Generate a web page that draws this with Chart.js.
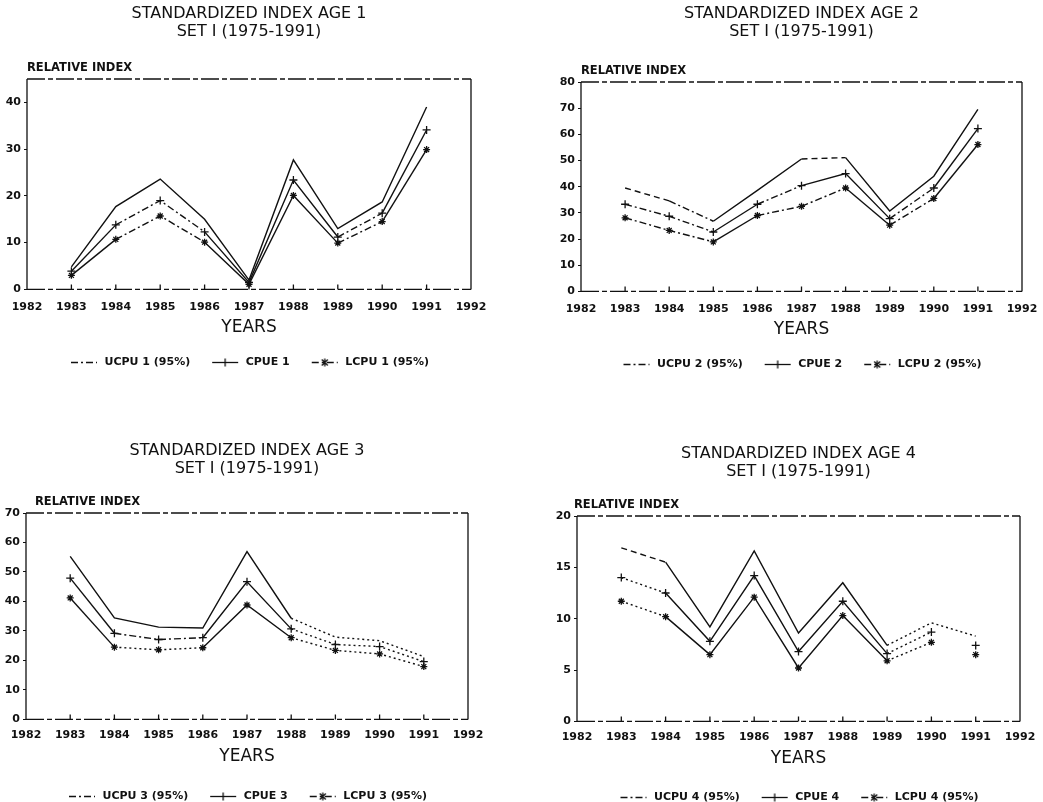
<!DOCTYPE html>
<html>
<head>
<meta charset="utf-8">
<script src="https://cdn.jsdelivr.net/npm/chart.js@4.4.1/dist/chart.umd.min.js"></script>
<style>
  body { margin: 0; background: #fff; overflow: hidden; width: 1043px; height: 802px; position: relative; }
  canvas { position: absolute; }
</style>
</head>
<body>
<canvas id="age1" width="498" height="378" style="left:0px;top:0px"></canvas>
<canvas id="age2" width="483" height="380" style="left:560px;top:0px"></canvas>
<canvas id="age3" width="494" height="375" style="left:0px;top:437px"></canvas>
<canvas id="age4" width="489" height="373" style="left:554px;top:440px"></canvas>
<script>
// Years with data, and the year ticks along the axis
const years = [1983, 1984, 1985, 1986, 1987, 1988, 1989, 1990, 1991];
const xTicks = [1982, 1983, 1984, 1985, 1986, 1987, 1988, 1989, 1990, 1991, 1992];

// Age 1
const ucpu1 = [4.8, 17.7, 23.6, 15.0, 2.0, 27.7, 13.0, 18.7, 39.0];
const cpue1 = [3.9, 13.8, 19.0, 12.3, 1.5, 23.4, 11.2, 16.3, 34.1];
const lcpu1 = [3.0, 10.7, 15.7, 10.1, 1.1, 20.1, 9.9, 14.5, 29.9];
const yTicks1 = [0, 10, 20, 30, 40];

// Age 2
const ucpu2 = [39.5, 34.6, 26.8, 38.6, 50.6, 51.1, 30.7, 44.0, 69.5];
const cpue2 = [33.3, 28.7, 22.7, 33.3, 40.4, 45.0, 27.8, 39.5, 62.2];
const lcpu2 = [28.1, 23.3, 18.9, 29.0, 32.5, 39.5, 25.3, 35.5, 56.1];
const yTicks2 = [0, 10, 20, 30, 40, 50, 60, 70, 80];

// Age 3
const ucpu3 = [55.3, 34.4, 31.3, 31.0, 56.9, 34.3, 27.9, 26.7, 21.3];
const cpue3 = [47.9, 29.2, 27.1, 27.7, 46.7, 30.7, 25.4, 24.7, 19.6];
const lcpu3 = [41.2, 24.5, 23.6, 24.3, 38.8, 27.7, 23.4, 22.2, 17.9];
const yTicks3 = [0, 10, 20, 30, 40, 50, 60, 70];

// Age 4
const ucpu4 = [16.9, 15.5, 9.2, 16.6, 8.6, 13.5, 7.4, 9.6, 8.3];
const cpue4 = [14.0, 12.5, 7.8, 14.2, 6.8, 11.7, 6.6, 8.7, 7.4];
const lcpu4 = [11.7, 10.2, 6.5, 12.1, 5.2, 10.3, 5.9, 7.7, 6.5];
const yTicks4 = [0, 5, 10, 15, 20];

const INK = "#111";
Chart.defaults.font.family = "'DejaVu Sans', sans-serif";
Chart.defaults.color = INK;

// segment line styles: s solid, d dash-dot, - dashed, : dotted, blank = no line
const DASHES = { s: [], d: [7, 3, 2, 3], "-": [6, 4], ":": [2, 3] };

// Plot frame and the short year ticks standing on the bottom axis
const framePlugin = {
  id: "frame",
  beforeDatasetsDraw(chart) {
    const { ctx, chartArea: a, scales } = chart;
    ctx.save();
    ctx.strokeStyle = INK;
    ctx.lineWidth = 1.3;
    ctx.beginPath();
    ctx.moveTo(a.left, a.top);
    ctx.lineTo(a.left, a.bottom);
    ctx.moveTo(a.right, a.top);
    ctx.lineTo(a.right, a.bottom);
    ctx.stroke();
    ctx.setLineDash([18, 3, 5, 3]);
    ctx.beginPath();
    ctx.moveTo(a.left, a.top);
    ctx.lineTo(a.right, a.top);
    ctx.moveTo(a.left, a.bottom);
    ctx.lineTo(a.right, a.bottom);
    ctx.stroke();
    ctx.setLineDash([]);
    ctx.beginPath();
    years.forEach((yr) => {
      const px = scales.x.getPixelForValue(yr);
      ctx.moveTo(px, a.bottom);
      ctx.lineTo(px, a.bottom - 5);
    });
    ctx.stroke();
    ctx.restore();
  },
};

// "RELATIVE INDEX" sits flat above the top-left corner of the plot
const relIndexPlugin = {
  id: "relIndex",
  afterDraw(chart, args, opts) {
    const { ctx, chartArea: a } = chart;
    ctx.save();
    ctx.fillStyle = INK;
    ctx.font = "bold 11.5px 'DejaVu Sans', sans-serif";
    ctx.textBaseline = "middle";
    ctx.textAlign = "left";
    ctx.fillText("RELATIVE INDEX", a.left + (opts.dx || 0), a.top - 11);
    ctx.restore();
  },
};

function legendIcon(marker, dash) {
  const c = document.createElement("canvas");
  c.width = 30;
  c.height = 11;
  const g = c.getContext("2d");
  g.strokeStyle = INK;
  g.lineWidth = 1.3;
  g.setLineDash(dash);
  g.beginPath();
  g.moveTo(2, 5.5);
  g.lineTo(28, 5.5);
  g.stroke();
  g.setLineDash([]);
  g.beginPath();
  if (marker) {
    g.moveTo(15, 1.5);
    g.lineTo(15, 9.5);
  }
  if (marker === "star") {
    g.moveTo(12, 2.5);
    g.lineTo(18, 8.5);
    g.moveTo(18, 2.5);
    g.lineTo(12, 8.5);
  }
  g.stroke();
  return c;
}

function lineSet(label, values, styles, pointStyle, radius) {
  return {
    label: label,
    data: years.map((yr, i) => ({ x: yr, y: values[i] })),
    borderColor: INK,
    backgroundColor: INK,
    borderWidth: 1.4,
    pointStyle: pointStyle || "circle",
    pointRadius: radius || 0,
    pointBorderColor: INK,
    pointBorderWidth: 1.3,
    tension: 0,
    segment: {
      borderDash: (ctx) => DASHES[styles[ctx.p0DataIndex]] || [],
      borderColor: (ctx) => (styles[ctx.p0DataIndex] === " " ? "rgba(0,0,0,0)" : INK),
    },
  };
}

function createPanel(p) {
  const icons = [
    legendIcon(null, DASHES.d),
    legendIcon("cross", []),
    legendIcon("star", DASHES.d),
  ];
  return new Chart(document.getElementById(p.id), {
    type: "line",
    data: {
      datasets: [
        lineSet("UCPU " + p.age + " (95%)", p.ucpu, p.styles[0]),
        lineSet("CPUE " + p.age, p.cpue, p.styles[1], "cross", 4),
        lineSet("LCPU " + p.age + " (95%)", p.lcpu, p.styles[2], "star", 3.5),
      ],
    },
    plugins: [framePlugin, relIndexPlugin],
    options: {
      responsive: false,
      animation: false,
      layout: { padding: 0 },
      scales: {
        x: {
          type: "linear",
          min: 1982,
          max: 1992,
          afterBuildTicks: (s) => {
            s.ticks = xTicks.map((v) => ({ value: v }));
          },
          afterFit: (s) => {
            s.paddingLeft = 0;
            s.paddingRight = p.padRight;
          },
          // grid hidden, but its tick length still sets the label gap
          grid: { display: false, drawTicks: true, tickLength: p.tickGap },
          border: { display: false },
          ticks: {
            padding: 1,
            autoSkip: false,
            maxRotation: 0,
            font: { size: 11, weight: "bold" },
            callback: (v) => String(v),
          },
          title: {
            display: true,
            text: "YEARS",
            font: { size: 17, lineHeight: 1.13 },
            padding: p.yearsPad,
          },
        },
        y: {
          min: 0,
          max: p.yMax,
          afterBuildTicks: (s) => {
            s.ticks = p.yTicks.map((v) => ({ value: v }));
          },
          afterFit: (s) => {
            s.width = p.yWidth;
          },
          grid: { drawOnChartArea: false, tickLength: 3, color: INK },
          border: { display: false },
          ticks: { padding: 3, font: { size: 11, weight: "bold" } },
        },
      },
      plugins: {
        title: {
          display: true,
          text: ["STANDARDIZED INDEX AGE " + p.age, "SET I (1975-1991)"],
          font: { size: 16, weight: "normal", lineHeight: 1.125 },
          padding: p.titlePad,
          color: INK,
        },
        legend: {
          display: true,
          position: "bottom",
          labels: {
            usePointStyle: true,
            pointStyleWidth: 30,
            padding: 20,
            font: { size: 11, weight: "bold" },
            generateLabels: (chart) =>
              Chart.defaults.plugins.legend.labels
                .generateLabels(chart)
                .map((item, i) => Object.assign(item, { pointStyle: icons[i] })),
          },
        },
        tooltip: { enabled: false },
        relIndex: { dx: p.labelDx },
      },
    },
  });
}

createPanel({
  id: "age1", age: 1, ucpu: ucpu1, cpue: cpue1, lcpu: lcpu1,
  yMax: 45, yTicks: yTicks1, yWidth: 27, padRight: 27,
  titlePad: { top: 5, bottom: 38 }, tickGap: 10.4, yearsPad: { top: 2.8, bottom: 0 }, labelDx: 0,
  styles: ["ssssssss", "sddsssds", "sddsssds"],
});

createPanel({
  id: "age2", age: 2, ucpu: ucpu2, cpue: cpue2, lcpu: lcpu2,
  yMax: 80, yTicks: yTicks2, yWidth: 21, padRight: 21,
  titlePad: { top: 5, bottom: 41 }, tickGap: 10.4, yearsPad: { top: 2.8, bottom: 0 }, labelDx: 0,
  styles: ["-dss-sss", "ddsdssds", "ddsddsds"],
});

createPanel({
  id: "age3", age: 3, ucpu: ucpu3, cpue: cpue3, lcpu: lcpu3,
  yMax: 70, yTicks: yTicks3, yWidth: 26, padRight: 26,
  titlePad: { top: 5, bottom: 35 }, tickGap: 8.4, yearsPad: { top: 3.8, bottom: 5 }, labelDx: 9,
  styles: ["sssss:::", "sddss:::", "s::ss:::"],
});

createPanel({
  id: "age4", age: 4, ucpu: ucpu4, cpue: cpue4, lcpu: lcpu4,
  yMax: 20, yTicks: yTicks4, yWidth: 23, padRight: 23,
  titlePad: { top: 5, bottom: 35 }, tickGap: 8.4, yearsPad: { top: 3.8, bottom: 4 }, labelDx: -3,
  styles: ["-sssss::", ":sssss: ", ":sssss: "],
});
</script>
</body>
</html>
